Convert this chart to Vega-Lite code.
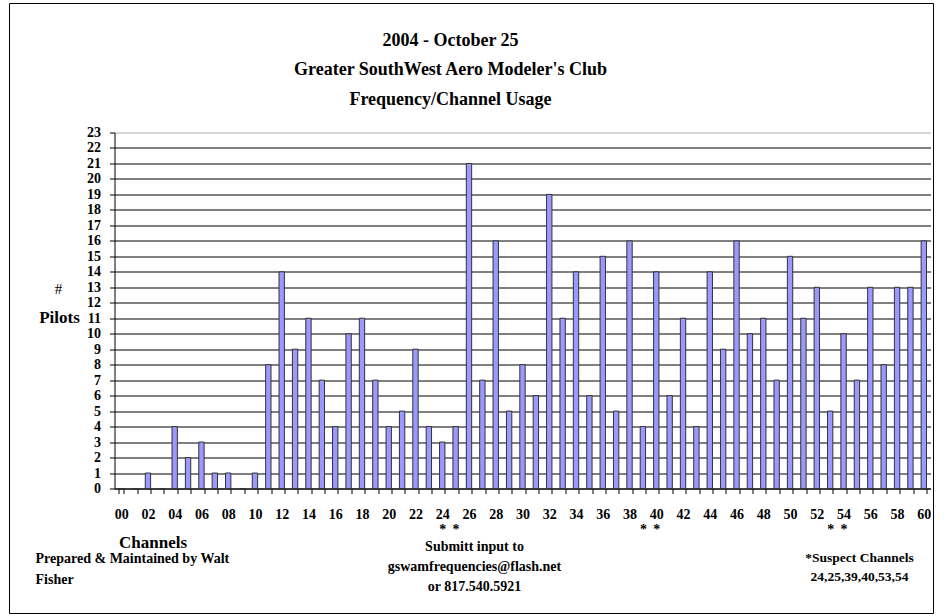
{
  "$schema": "https://vega.github.io/schema/vega-lite/v6.json",
  "width": 816,
  "height": 356,
  "autosize": {"type": "pad"},
  "padding": {"left": 8.5, "top": 2.5, "right": 14.5, "bottom": 2.5},
  "background": "white",
  "config": {"view": {"stroke": null}, "font": "Liberation Serif, Times New Roman, serif"},
  "data": {
    "values": [
      {"channel": "00", "pilots": 0}, {"channel": "01", "pilots": 0}, {"channel": "02", "pilots": 1}, {"channel": "03", "pilots": 0},
      {"channel": "04", "pilots": 4}, {"channel": "05", "pilots": 2}, {"channel": "06", "pilots": 3}, {"channel": "07", "pilots": 1},
      {"channel": "08", "pilots": 1}, {"channel": "09", "pilots": 0}, {"channel": "10", "pilots": 1}, {"channel": "11", "pilots": 8},
      {"channel": "12", "pilots": 14}, {"channel": "13", "pilots": 9}, {"channel": "14", "pilots": 11}, {"channel": "15", "pilots": 7},
      {"channel": "16", "pilots": 4}, {"channel": "17", "pilots": 10}, {"channel": "18", "pilots": 11}, {"channel": "19", "pilots": 7},
      {"channel": "20", "pilots": 4}, {"channel": "21", "pilots": 5}, {"channel": "22", "pilots": 9}, {"channel": "23", "pilots": 4},
      {"channel": "24", "pilots": 3}, {"channel": "25", "pilots": 4}, {"channel": "26", "pilots": 21}, {"channel": "27", "pilots": 7},
      {"channel": "28", "pilots": 16}, {"channel": "29", "pilots": 5}, {"channel": "30", "pilots": 8}, {"channel": "31", "pilots": 6},
      {"channel": "32", "pilots": 19}, {"channel": "33", "pilots": 11}, {"channel": "34", "pilots": 14}, {"channel": "35", "pilots": 6},
      {"channel": "36", "pilots": 15}, {"channel": "37", "pilots": 5}, {"channel": "38", "pilots": 16}, {"channel": "39", "pilots": 4},
      {"channel": "40", "pilots": 14}, {"channel": "41", "pilots": 6}, {"channel": "42", "pilots": 11}, {"channel": "43", "pilots": 4},
      {"channel": "44", "pilots": 14}, {"channel": "45", "pilots": 9}, {"channel": "46", "pilots": 16}, {"channel": "47", "pilots": 10},
      {"channel": "48", "pilots": 11}, {"channel": "49", "pilots": 7}, {"channel": "50", "pilots": 15}, {"channel": "51", "pilots": 11},
      {"channel": "52", "pilots": 13}, {"channel": "53", "pilots": 5}, {"channel": "54", "pilots": 10}, {"channel": "55", "pilots": 7},
      {"channel": "56", "pilots": 13}, {"channel": "57", "pilots": 8}, {"channel": "58", "pilots": 13}, {"channel": "59", "pilots": 13},
      {"channel": "60", "pilots": 16}
    ]
  },
  "layer": [
    {
      "mark": {"type": "bar", "fill": "#9999FF", "stroke": "#333333", "strokeWidth": 1},
      "encoding": {
        "x": {
          "field": "channel", "type": "nominal",
          "scale": {"paddingInner": 0.6, "paddingOuter": 0.3},
          "axis": {
            "title": "Channels", "titleFont": "Liberation Serif, Times New Roman, serif", "titleFontSize": 17, "titleFontWeight": "bold", "titleColor": "black",
            "titleX": 38, "titleY": 54, "titleAlign": "center", "titleBaseline": "middle",
            "labelAngle": 0, "labelFont": "Liberation Serif, Times New Roman, serif", "labelFontSize": 14, "labelFontWeight": "bold", "labelColor": "black",
            "labelPadding": 14, "labelLineHeight": 15, "labelOverlap": false, "labelBound": false, "labelFlush": false,
            "labelExpr": "indexof(['24','40','54'], datum.value) >= 0 ? [datum.value, '*'] : (indexof(['25','39','53'], datum.value) >= 0 ? ['', '*'] : (toNumber(datum.value) % 2 == 0 ? datum.value : ''))",
            "tickBand": "extent", "tickSize": 5, "tickColor": "black", "domainColor": "black", "grid": false
          }
        },
        "y": {
          "field": "pilots", "type": "quantitative",
          "scale": {"domain": [0, 23], "nice": false},
          "axis": {
            "values": [0, 1, 2, 3, 4, 5, 6, 7, 8, 9, 10, 11, 12, 13, 14, 15, 16, 17, 18, 19, 20, 21, 22, 23],
            "title": "Pilots", "titleAngle": 0, "titleX": -55.5, "titleY": 185, "titleAlign": "center", "titleBaseline": "middle",
            "titleFont": "Liberation Serif, Times New Roman, serif", "titleFontSize": 17, "titleFontWeight": "bold", "titleColor": "black",
            "labelFont": "Liberation Serif, Times New Roman, serif", "labelFontSize": 14, "labelFontWeight": "bold", "labelColor": "black",
            "labelPadding": 9, "labelOverlap": false, "labelFlush": false, "labelBound": false,
            "tickSize": 5, "tickColor": "black", "domainColor": "black",
            "grid": true, "gridOpacity": 1,
            "gridColor": {"condition": {"test": "datum.value === 23", "value": "#aaaaaa"}, "value": "black"}
          }
        }
      }
    },
    {
      "data": {"values": [{}]},
      "layer": [
        {
          "mark": {"type": "rect", "fillOpacity": 0, "stroke": "black", "strokeWidth": 1},
          "encoding": {
            "x": {"datum": 0, "type": "quantitative", "scale": {"domain": [0.113636, 0.996753], "nice": false, "zero": false}, "axis": null},
            "x2": {"datum": 1},
            "y": {"datum": 0, "type": "quantitative", "scale": {"domain": [0.204918, 0.788525], "nice": false, "zero": false}, "axis": null},
            "y2": {"datum": 1}
          }
        },
        {
          "mark": {"type": "text", "align": "center", "baseline": "middle", "font": "Liberation Serif, Times New Roman, serif", "fontSize": 18, "fontWeight": "bold", "lineHeight": 29.5, "color": "black"},
          "encoding": {
            "x": {"datum": 0.4773, "type": "quantitative", "scale": {"domain": [0.113636, 0.996753], "nice": false, "zero": false}, "axis": null},
            "y": {"datum": 0.9393, "type": "quantitative", "scale": {"domain": [0.204918, 0.788525], "nice": false, "zero": false}, "axis": null},
            "text": {"value": ["2004 - October 25", "Greater SouthWest Aero Modeler's Club", "Frequency/Channel Usage"]}
          }
        },
        {
          "mark": {"type": "text", "align": "center", "baseline": "middle", "font": "Liberation Serif, Times New Roman, serif", "fontSize": 15, "fontWeight": "normal", "color": "black"},
          "encoding": {
            "x": {"datum": 0.05303, "type": "quantitative", "scale": {"domain": [0.113636, 0.996753], "nice": false, "zero": false}, "axis": null},
            "y": {"datum": 0.53115, "type": "quantitative", "scale": {"domain": [0.204918, 0.788525], "nice": false, "zero": false}, "axis": null},
            "text": {"value": "#"}
          }
        },
        {
          "mark": {"type": "text", "align": "left", "baseline": "middle", "font": "Liberation Serif, Times New Roman, serif", "fontSize": 14, "fontWeight": "bold", "lineHeight": 21, "color": "black"},
          "encoding": {
            "x": {"datum": 0.02814, "type": "quantitative", "scale": {"domain": [0.113636, 0.996753], "nice": false, "zero": false}, "axis": null},
            "y": {"datum": 0.09016, "type": "quantitative", "scale": {"domain": [0.204918, 0.788525], "nice": false, "zero": false}, "axis": null},
            "text": {"value": ["Prepared & Maintained by Walt", "Fisher"]}
          }
        },
        {
          "mark": {"type": "text", "align": "center", "baseline": "middle", "font": "Liberation Serif, Times New Roman, serif", "fontSize": 14, "fontWeight": "bold", "lineHeight": 20, "color": "black"},
          "encoding": {
            "x": {"datum": 0.50325, "type": "quantitative", "scale": {"domain": [0.113636, 0.996753], "nice": false, "zero": false}, "axis": null},
            "y": {"datum": 0.1082, "type": "quantitative", "scale": {"domain": [0.204918, 0.788525], "nice": false, "zero": false}, "axis": null},
            "text": {"value": ["Submitt input to", "gswamfrequencies@flash.net", "or 817.540.5921"]}
          }
        },
        {
          "mark": {"type": "text", "align": "center", "baseline": "middle", "font": "Liberation Serif, Times New Roman, serif", "fontSize": 13.5, "fontWeight": "bold", "lineHeight": 19, "color": "black"},
          "encoding": {
            "x": {"datum": 0.9199, "type": "quantitative", "scale": {"domain": [0.113636, 0.996753], "nice": false, "zero": false}, "axis": null},
            "y": {"datum": 0.0918, "type": "quantitative", "scale": {"domain": [0.204918, 0.788525], "nice": false, "zero": false}, "axis": null},
            "text": {"value": ["*Suspect Channels", "24,25,39,40,53,54"]}
          }
        }
      ]
    }
  ],
  "resolve": {"scale": {"x": "independent", "y": "independent"}}
}
